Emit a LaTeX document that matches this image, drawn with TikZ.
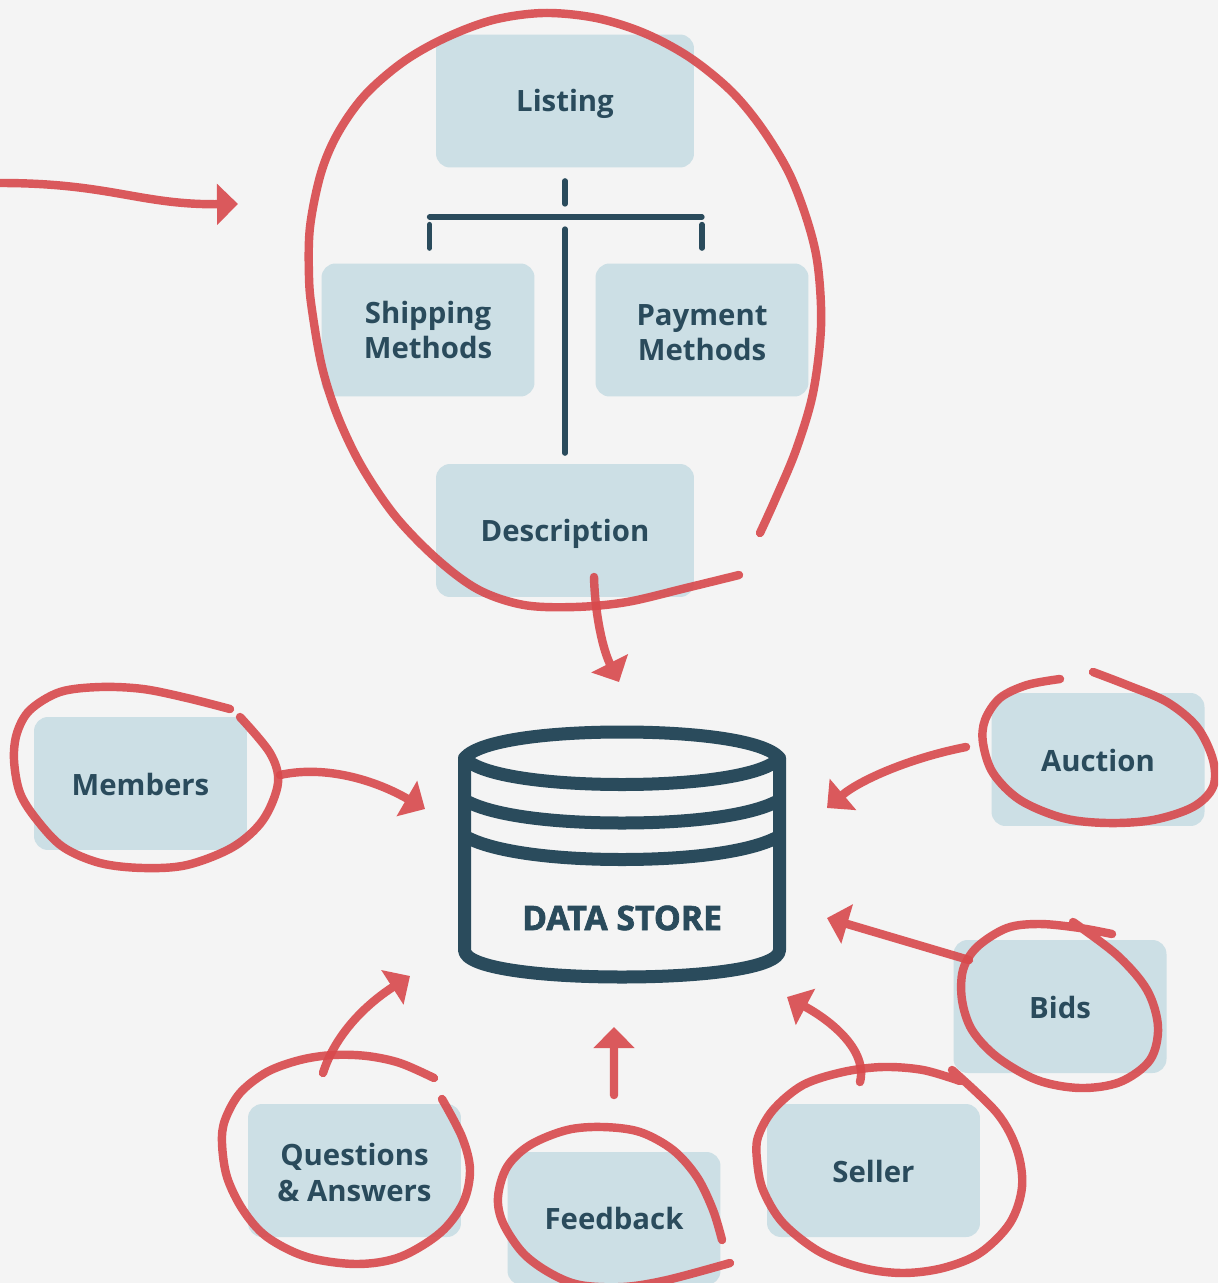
\documentclass[tikz,border=0pt]{standalone}
\usepackage{fontspec}
\setmainfont{Open Sans}
\usetikzlibrary{arrows.meta}
\definecolor{pagegrey}{HTML}{F4F4F4}
\definecolor{boxblue}{HTML}{CCDFE5}
\definecolor{inkblue}{HTML}{2A4B5C}
\definecolor{markred}{HTML}{D8494C}
\tikzset{
  topicbox/.style={fill=boxblue,rounded corners=0.28cm,minimum width=4.26cm,minimum height=2.66cm,
    align=center,text=inkblue,font=\fontsize{16.7}{20}\selectfont\bfseries},
  treeline/.style={draw=inkblue,line width=3pt,line cap=round},
  storeline/.style={draw=inkblue,line width=7.4pt,line join=round},
  markline/.style={draw=markred,line width=4.8pt,line cap=round,line join=round},
  ring/.style={markline,opacity=0.9},
  markarrow/.style={markline,-{Triangle[length=0.42cm,width=0.8cm]}},
}
\newcommand{\markpath}[1]{\begin{scope}[transparency group,opacity=0.9]\draw[markarrow] #1;\end{scope}}
\begin{document}
\begin{tikzpicture}[x=0.02cm,y=-0.02cm]
  \fill[pagegrey] (0,0) rectangle (1218,1283);
  \clip (0,0) rectangle (1218,1283);
  % boxes
  \node[topicbox,minimum width=5.16cm,text height=12pt,text depth=0pt] (listing) at (565,101) {Listing};
  \node[topicbox] (shipping) at (428,330) {Shipping\\Methods};
  \node[topicbox] (payment) at (702,330) {\rule{0pt}{15pt}Payment\\Methods};
  \node[topicbox,minimum width=5.16cm,text height=12pt,text depth=0pt] (description) at (565,530.5) {Description};
  \node[topicbox,text height=14pt,text depth=0pt] (members) at (140.5,783.5) {Members};
  \node[topicbox,text height=14pt,text depth=0pt] (auction) at (1098,759.5) {Auction};
  \node[topicbox,text height=14pt,text depth=0pt] (bids) at (1060,1006.5) {Bids};
  \node[topicbox,text height=14pt,text depth=0pt] (seller) at (873.5,1170.5) {Seller};
  \node[topicbox] (questions) at (354.5,1170.5) {\rule{0pt}{15pt}Questions\\\& Answers};
  \node[topicbox,text height=12pt,text depth=0pt] (feedback) at (614,1218.5) {Feedback};
  % tree under listing
  \coordinate (barleft) at (429.5,217);
  \coordinate (barmid) at (565,217);
  \coordinate (barright) at (702,217);
  \draw[treeline] (barleft) -- (barright);
  \draw[treeline,shorten <=0.26cm,shorten >=0.26cm] (listing.south) -- (barmid);
  \draw[treeline,shorten <=0.30cm,shorten >=0.15cm] (barleft |- shipping.north) -- (barleft);
  \draw[treeline,shorten <=0.30cm,shorten >=0.15cm] (barright |- payment.north) -- (barright);
  \draw[treeline,shorten <=0.21cm,shorten >=0.24cm] (description.north) -- (barmid);
  % data store
  \draw[storeline] (464.5,758) .. controls (480,740) and (550,732) .. (622,732)
    .. controls (694,732) and (764,740) .. (779.5,758)
    .. controls (764,776) and (694,784.5) .. (622,784.5)
    .. controls (550,784.5) and (480,776) .. cycle;
  \draw[storeline] (464.5,758) -- (464.5,950) .. controls (464.5,968) and (540,977) .. (622,977)
    .. controls (704,977) and (779.5,968) .. (779.5,950) -- (779.5,758);
  \draw[storeline] (464.5,800) .. controls (490,815) and (550,823) .. (622,823)
    .. controls (694,823) and (754,815) .. (779.5,800);
  \draw[storeline] (464.5,836) .. controls (490,851) and (550,859.5) .. (622,859.5)
    .. controls (694,859.5) and (754,851) .. (779.5,836);
  \node[text=inkblue,font=\fontsize{19.2}{20}\selectfont\bfseries\addfontfeature{FakeBold=2}] (store) at (622,918) {DATA STORE};
  % hand drawn rings
  \draw[ring] plot[smooth,tension=0.55] coordinates {(760,533) (775,500) (796,450) (813,393) (821,327) (818,267) (808,223) (789,173) (761,127) (730,90) (689,57) (644,33) (596,18) (544,13) (493,20) (445,38) (403,62) (365,95) (338,133) (321,173) (310,227) (309,277) (312,310) (322,367) (338,417) (362,467) (396,517) (438,560) (479,590) (524,605) (575,607) (627,602) (686,588) (739,575)};
  \draw[ring] plot[smooth,tension=0.55] coordinates {(230,709) (187,698) (143,689) (100,687) (60,692) (30,710) (17,733) (14,760) (20,793) (37,820) (63,847) (100,863) (143,868) (187,865) (233,847) (263,820) (278,783) (270,753) (240,717)};
  \draw[ring] plot[smooth,tension=0.55] coordinates {(1060,679) (1027,685) (1000,698) (985,720) (983,743) (993,773) (1020,800) (1063,818) (1107,823) (1153,820) (1193,807) (1213,787) (1213,760) (1197,727) (1167,702) (1127,685) (1093,672)};
  \draw[ring] plot[smooth,tension=0.55] coordinates {(1112,934) (1080,928) (1040,924) (1007,928) (977,947) (963,970) (962,1000) (972,1030) (997,1057) (1037,1080) (1080,1088) (1120,1082) (1150,1060) (1158,1027) (1147,990) (1117,955) (1073,922)};
  \draw[ring] plot[smooth,tension=0.55] coordinates {(960,1081) (923,1070) (883,1067) (843,1072) (803,1085) (773,1110) (758,1137) (757,1160) (763,1190) (783,1223) (820,1252) (863,1268) (903,1273) (943,1268) (980,1253) (1010,1223) (1022,1187) (1017,1150) (997,1113) (952,1070)};
  \draw[ring] plot[smooth,tension=0.55] coordinates {(434,1078) (400,1063) (367,1056) (333,1055) (300,1060) (267,1072) (240,1093) (225,1120) (222,1143) (227,1177) (243,1210) (267,1237) (307,1257) (357,1264) (400,1257) (440,1233) (463,1203) (470,1170) (462,1137) (442,1099)};
  \draw[ring] plot[smooth,tension=0.55] coordinates {(722,1240) (713,1210) (697,1177) (673,1150) (640,1132) (603,1127) (567,1130) (530,1145) (507,1167) (498,1197) (503,1223) (523,1253) (550,1273) (580,1285) (623,1287) (667,1280) (730,1263)};
  % arrows
  \coordinate (pagein) at (0,183);
  \coordinate (listingtip) at (238,204);
  \markpath{(pagein) .. controls (110,183) and (140,205) .. (listingtip)}
  \coordinate (descout) at (594,577);
  \coordinate (storetop) at (619,682);
  \markpath{(descout) .. controls (595,615) and (603,650) .. (storetop)}
  \coordinate (membersout) at (280,775);
  \coordinate (storeleft) at (425,809);
  \markpath{(membersout) .. controls (325,765) and (375,780) .. (storeleft)}
  \coordinate (auctionout) at (966,747);
  \coordinate (storeright) at (827,808);
  \markpath{(auctionout) .. controls (910,758) and (860,780) .. (storeright)}
  \coordinate (bidsout) at (969,960);
  \coordinate (storelow) at (827,918);
  \markpath{(bidsout) -- (storelow)}
  \coordinate (sellerout) at (860,1082);
  \coordinate (storebase) at (787,997);
  \markpath{(sellerout) .. controls (868,1050) and (830,1020) .. (storebase)}
  \coordinate (questionsout) at (323,1073);
  \coordinate (storecorner) at (410,976);
  \markpath{(questionsout) .. controls (335,1035) and (365,1005) .. (storecorner)}
  \coordinate (feedbackout) at (614,1095);
  \coordinate (storefoot) at (614,1027);
  \markpath{(feedbackout) -- (storefoot)}
\end{tikzpicture}
\end{document}
